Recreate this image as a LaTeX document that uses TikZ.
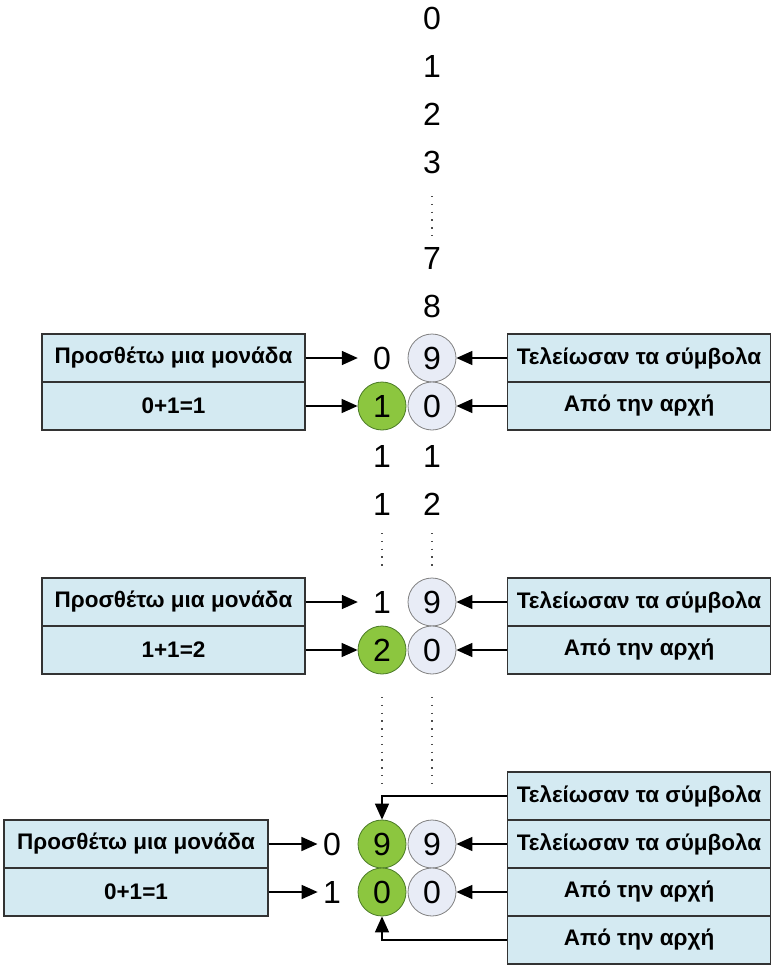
\documentclass[tikz,border=0pt]{standalone}
\usepackage{fontspec}
\setmainfont{Liberation Sans}
\usetikzlibrary{arrows.meta}
\definecolor{boxblue}{HTML}{D4EAF2}
\definecolor{cgreen}{HTML}{8CC63F}
\definecolor{cgreenb}{HTML}{4A7A26}
\definecolor{cgrey}{HTML}{E8ECF6}
\definecolor{cgreyb}{HTML}{808080}
\definecolor{edge}{HTML}{333333}
\begin{document}
\begin{tikzpicture}[x=1pt,y=-1pt,
  lbl/.style={draw=edge, fill=boxblue, line width=1.3pt, minimum width=263pt, minimum height=48pt,
    inner sep=0pt, font=\bfseries\fontsize{22.5}{24}\selectfont},
  dig/.style={inner sep=0pt, font=\fontsize{32}{34}\selectfont},
  gc/.style={dig, circle, draw=cgreenb, fill=cgreen, line width=0.8pt, minimum size=48pt},
  wc/.style={dig, circle, draw=cgreyb, fill=cgrey, line width=0.8pt, minimum size=48pt},
  pd/.style={dig, circle, minimum size=48pt},
  pds/.style={dig, circle, minimum size=28pt},
  arr/.style={-{Triangle[length=16pt,width=14pt]}, line width=1.5pt, draw=black},
  dotline/.style={line width=1.3pt, dash pattern=on 1.3pt off 6.5pt, draw=black!70}]
\useasboundingbox (0,0) rectangle (776,966);

% top column
\node[dig] (c0) at (432,18) {0};
\node[dig] (c1) at (432,66) {1};
\node[dig] (c2) at (432,114) {2};
\node[dig] (c3) at (432,162) {3};
\node[dig] (c7) at (432,258) {7};
\node[dig] (c8) at (432,306) {8};
\draw[dotline] (432,196) coordinate (d1a) -- (432,240) coordinate (d1b);

% block 1
\node[lbl] (L1a) at (173.5,358) {Προσθέτω μια μονάδα};
\node[lbl] (L1b) at (173.5,406) {0+1=1};
\node[lbl] (R1a) at (639,358) {Τελείωσαν τα σύμβολα};
\node[lbl] (R1b) at (639,406) {Από την αρχή};
\node[pd] (t10) at (382,358) {0};
\node[wc] (w19) at (432,358) {9};
\node[gc] (g11) at (382,406) {1};
\node[wc] (w10) at (432,406) {0};
\draw[arr] (L1a.east) -- (t10.west);
\draw[arr] (L1b.east) -- (g11.west);
\draw[arr] (R1a.west) -- (w19.east);
\draw[arr] (R1b.west) -- (w10.east);

% middle digits
\node[dig] (m1a) at (382,456) {1};
\node[dig] (m1b) at (432,456) {1};
\node[dig] (m2a) at (382,504) {1};
\node[dig] (m2b) at (432,504) {2};
\draw[dotline] (382,533) coordinate (d2a) -- (382,570) coordinate (d2b);
\draw[dotline] (432,533) coordinate (d3a) -- (432,570) coordinate (d3b);

% block 2
\node[lbl] (L2a) at (173.5,602) {Προσθέτω μια μονάδα};
\node[lbl] (L2b) at (173.5,650) {1+1=2};
\node[lbl] (R2a) at (639,602) {Τελείωσαν τα σύμβολα};
\node[lbl] (R2b) at (639,650) {Από την αρχή};
\node[pd] (t21) at (382,602) {1};
\node[wc] (w29) at (432,602) {9};
\node[gc] (g22) at (382,650) {2};
\node[wc] (w20) at (432,650) {0};
\draw[arr] (L2a.east) -- (t21.west);
\draw[arr] (L2b.east) -- (g22.west);
\draw[arr] (R2a.west) -- (w29.east);
\draw[arr] (R2b.west) -- (w20.east);

\draw[dotline] (382,697) coordinate (d4a) -- (382,790) coordinate (d4b);
\draw[dotline] (432,697) coordinate (d5a) -- (432,790) coordinate (d5b);

% block 3
\node[lbl, minimum width=264pt] (L3a) at (136,844) {Προσθέτω μια μονάδα};
\node[lbl, minimum width=264pt] (L3b) at (136,892) {0+1=1};
\node[lbl] (R3a) at (639,796) {Τελείωσαν τα σύμβολα};
\node[lbl] (R3b) at (639,844) {Τελείωσαν τα σύμβολα};
\node[lbl] (R3c) at (639,892) {Από την αρχή};
\node[lbl] (R3d) at (639,940) {Από την αρχή};
\node[pds] (t30) at (332,844) {0};
\node[pds] (t31) at (332,892) {1};
\node[gc] (g39) at (382,844) {9};
\node[wc] (w39) at (432,844) {9};
\node[gc] (g30) at (382,892) {0};
\node[wc] (w30) at (432,892) {0};
\draw[arr] (L3a.east) -- (t30.west);
\draw[arr] (L3b.east) -- (t31.west);
\draw[arr] (R3b.west) -- (w39.east);
\draw[arr] (R3c.west) -- (w30.east);
\draw[arr] (R3a.west) -| (g39.north);
\draw[arr] (R3d.west) -| (g30.south);
\end{tikzpicture}
\end{document}
